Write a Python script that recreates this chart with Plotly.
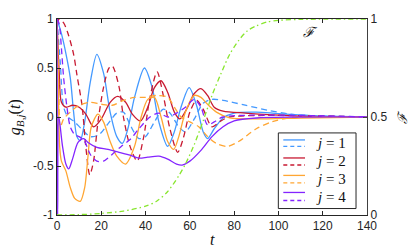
import plotly.graph_objects as go

# ---- data ----
t1s = [0, 2, 4, 6, 7.5, 9, 10.5, 12.5, 15, 18, 21, 24, 27, 29.5, 32, 35, 39.5, 43, 46, 50, 53, 56, 59.7, 63, 66, 68, 71, 75, 80, 90, 100, 120, 140]
g1s = [1, 0.85, 0.65, 0.4, 0.05, -0.2, -0.24, -0.05, 0.35, 0.64, 0.45, 0.05, -0.2, -0.27, -0.12, 0.2, 0.5, 0.3, -0.05, -0.3, -0.15, 0.1, 0.3, 0.12, -0.15, -0.22, -0.12, -0.01, 0.04, 0.05, 0.035, 0.01, 0]

t1d = [0, 1.5, 3, 5, 8, 11, 15, 19, 23, 27, 30, 33, 37, 40, 44, 48, 51, 55, 58, 62, 66, 70, 75, 85, 95, 105, 115, 140]
g1d = [1, 0.55, 0.1, 0.0, -0.05, -0.12, -0.2, -0.18, -0.07, 0.04, 0.05, -0.08, -0.22, -0.2, -0.05, 0.08, 0.04, -0.1, -0.15, -0.02, 0.14, 0.18, 0.17, 0.12, 0.07, 0.03, 0.01, 0]

t2s = [0, 1, 2, 4, 7, 10, 13, 16.5, 20, 24, 27.4, 31, 34, 37.7, 41, 44, 47, 50, 53, 55.5, 59, 62, 65, 68, 71, 75, 85, 100, 115, 140]
g2s = [1, 0.45, 0.15, 0.1, 0.12, 0.1, 0.03, -0.1, -0.02, 0.15, 0.21, 0.15, 0.03, -0.04, 0.1, 0.3, 0.37, 0.25, 0.05, -0.02, 0.1, 0.24, 0.29, 0.22, 0.1, 0.06, 0.04, 0.02, 0.005, 0]

t2d = [0, 1, 3, 5, 7.5, 9, 11.3, 13, 14.8, 16.5, 18.5, 21, 23.5, 25, 28, 30, 33, 36.2, 39, 42, 45.2, 48, 51, 54.5, 57, 60, 63, 66, 70, 74, 78, 140]
g2d = [0.95, 1.0, 0.96, 0.85, 0.64, 0.43, 0.12, -0.3, -0.59, -0.45, -0.05, 0.3, 0.5, 0.52, 0.31, 0.0, -0.3, -0.45, -0.22, 0.2, 0.46, 0.22, -0.12, -0.36, -0.22, 0.05, 0.17, 0.08, -0.1, -0.04, 0.0, 0]

t3s = [0, 0.5, 1.2, 2, 4, 6, 8, 10.5, 12.5, 14, 15.5, 18.5, 21, 24, 27, 31, 35, 38, 41, 44, 47, 50, 52.7, 55, 58, 62, 65, 68, 72, 78, 90, 110, 140]
g3s = [1, 0.5, -0.3, -0.45, -0.55, -0.72, -0.83, -0.86, -0.72, -0.4, -0.1, 0.03, -0.05, -0.25, -0.4, -0.48, -0.3, 0.0, 0.18, 0.2, 0.0, -0.25, -0.33, -0.2, 0.05, 0.22, 0.2, 0.13, 0.05, -0.01, -0.02, -0.01, 0]

t3d = [0, 0.8, 1.5, 3, 6, 10, 15, 20, 25, 30, 35, 40, 45, 50, 53, 56, 60, 64, 68, 72, 77, 82, 90, 97, 105, 140]
g3d = [1, 0.3, -0.1, -0.02, 0.05, 0.12, 0.15, 0.13, 0.12, 0.17, 0.2, 0.2, 0.22, 0.2, 0.1, 0.0, -0.05, -0.1, -0.2, -0.27, -0.3, -0.25, -0.12, -0.05, -0.01, 0]

t4s = [0, 0.3, 0.8, 2.5, 4, 5.3, 7, 9.5, 12, 14, 18, 23, 28, 33, 37, 41, 46, 50, 54, 56.5, 60, 65, 70, 75, 80, 90, 140]
g4s = [1, -1, 0.0, -0.3, -0.48, -0.53, -0.43, -0.26, -0.22, -0.26, -0.31, -0.33, -0.36, -0.39, -0.42, -0.41, -0.40, -0.43, -0.48, -0.49, -0.45, -0.34, -0.2, -0.1, -0.04, -0.01, 0]

t4d = [0, 1, 2, 3, 4.5, 6, 8, 10, 12.5, 15, 18, 21, 25, 29, 33, 37, 42, 46, 50, 54, 58, 62, 65, 68, 71, 75, 140]
g4d = [1, 0.95, 0.7, 0.4, 0.1, -0.1, -0.18, -0.2, -0.25, -0.38, -0.45, -0.45, -0.38, -0.3, -0.23, -0.12, 0.0, 0.04, 0.0, 0.04, 0.1, 0.18, 0.1, -0.08, -0.05, 0.0, 0]

tF = [0, 10, 20, 30, 40, 45, 50, 55, 58, 62, 66, 70, 74, 78, 82, 86, 90, 95, 100, 110, 140]
F = [0, 0.002, 0.008, 0.02, 0.045, 0.07, 0.12, 0.2, 0.26, 0.36, 0.48, 0.61, 0.72, 0.82, 0.89, 0.94, 0.965, 0.985, 0.993, 0.998, 1.0]

labels = ["1", "2", "3", "4"]
colors = ["#4499ff", "#c81a32", "#ffa633", "#8424ff"]
green = "#88e62e"

xticks = [0, 20, 40, 60, 80, 100, 120, 140]
yticks = [-1, -0.5, 0, 0.5, 1]
yticktext = ["-1", "-0.5", "0", "0.5", "1"]
y2ticks = [0, 0.5, 1]
y2ticktext = ["0", "0.5", "1"]

solid = [(t1s, g1s), (t2s, g2s), (t3s, g3s), (t4s, g4s)]
dashed = [(t1d, g1d), (t2d, g2d), (t3d, g3d), (t4d, g4d)]

DASH = "6px,4px"
fig = go.Figure()
for i in range(4):
    ts, gs = solid[i]
    fig.add_trace(go.Scatter(x=ts, y=gs, mode="lines", line=dict(color=colors[i], width=1.3, shape="spline", smoothing=0.8), showlegend=False))
    td, gd = dashed[i]
    fig.add_trace(go.Scatter(x=td, y=gd, mode="lines", line=dict(color=colors[i], width=1.3, dash=DASH, shape="spline", smoothing=0.8), showlegend=False))

fig.add_trace(go.Scatter(x=tF, y=F, mode="lines", yaxis="y2",
                         line=dict(color=green, width=1.3, dash="5px,3px,1.5px,3px", shape="spline", smoothing=0.8), showlegend=False))

tickfont = dict(family="Liberation Sans, Arial, sans-serif", size=12, color="#262626")
fig.update_layout(
    width=415, height=247,
    margin=dict(l=57, r=48, t=12, b=32),
    paper_bgcolor="white", plot_bgcolor="white",
    xaxis=dict(range=[0, 140], tickvals=xticks, ticks="inside", ticklen=4, tickcolor="#262626",
               showline=True, linecolor="#262626", linewidth=1, mirror="ticks",
               showgrid=False, zeroline=False, tickfont=tickfont),
    yaxis=dict(range=[-1, 1], tickvals=yticks, ticktext=yticktext, ticks="inside", ticklen=4, tickcolor="#262626",
               showline=True, linecolor="#262626", linewidth=1, showgrid=False, zeroline=False, tickfont=tickfont),
    yaxis2=dict(range=[0, 1], tickvals=y2ticks, ticktext=y2ticktext, overlaying="y", side="right",
                ticks="inside", ticklen=4, tickcolor="#404040", showline=True, linecolor="#404040", linewidth=1,
                showgrid=False, zeroline=False, tickfont=tickfont),
)

serif = "Liberation Serif, DejaVu Serif, serif"
ann = []
ann.append(dict(x=-0.135, y=0.5, xref="paper", yref="paper", xanchor="center", yanchor="middle", textangle=-90, showarrow=False,
                text="<i>g</i><sub><i>B</i>,<i>j</i></sub>(<i>t</i>)", font=dict(family=serif, size=16, color="#111")))
ann.append(dict(x=0.5, y=-0.125, xref="paper", yref="paper", xanchor="center", yanchor="middle", showarrow=False,
                text="<i>t</i>", font=dict(family=serif, size=16, color="#111")))
ann.append(dict(x=1.113, y=0.5, xref="paper", yref="paper", xanchor="center", yanchor="middle", textangle=-90, showarrow=False,
                text="<i>ℱ</i>", font=dict(family=serif, size=13, color="#111")))
ann.append(dict(x=0.817, y=0.93, xref="paper", yref="paper", xanchor="center", yanchor="middle", showarrow=False,
                text="<i>ℱ</i>", font=dict(family=serif, size=14, color="#111")))

shapes = []
# manual legend box
shapes.append(dict(type="rect", xref="paper", yref="paper", x0=0.714, x1=0.9646, y0=0.033, y1=0.4187,
                   line=dict(color="#262626", width=1), fillcolor="white", layer="above"))
ys_solid = [0.383, 0.291, 0.202, 0.115]
ys_dash = [0.350, 0.255, 0.164, 0.074]
ys_text = [0.366, 0.273, 0.183, 0.094]
for i in range(4):
    shapes.append(dict(type="line", xref="paper", yref="paper", x0=0.730, x1=0.800, y0=ys_solid[i], y1=ys_solid[i],
                       line=dict(color=colors[i], width=1.3), layer="above"))
    shapes.append(dict(type="line", xref="paper", yref="paper", x0=0.730, x1=0.800, y0=ys_dash[i], y1=ys_dash[i],
                       line=dict(color=colors[i], width=1.3, dash="4px,3px"), layer="above"))
    ann.append(dict(x=0.884, y=ys_text[i], xref="paper", yref="paper", showarrow=False, xanchor="center", yanchor="middle",
                    text="<i>j</i> = " + labels[i], font=dict(family=serif, size=15, color="#111")))

fig.update_layout(annotations=ann, shapes=shapes)
fig.write_html("out.html", post_script="document.body.style.margin='0px';",
               config={"displayModeBar": False})
